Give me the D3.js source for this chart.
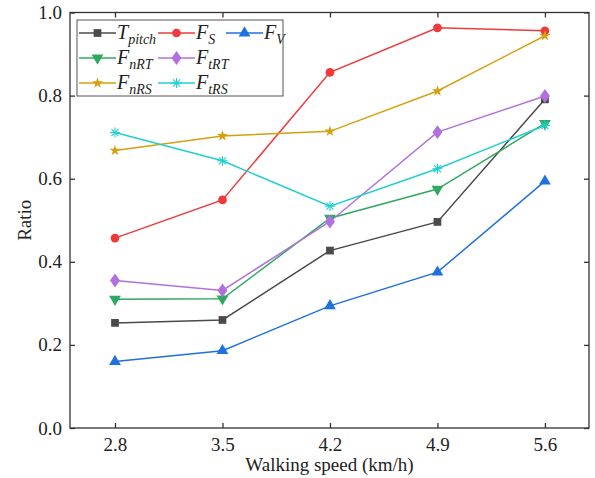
<!DOCTYPE html>
<html><head><meta charset="utf-8">
<script src="https://cdn.jsdelivr.net/npm/d3@7"></script>
<style>body{margin:0;background:#fff}svg{display:block}text{font-family:"Liberation Serif","Times New Roman",Times,serif}</style>
</head><body>
<script>
const speeds = [2.8, 3.5, 4.2, 4.9, 5.6];
const xTicks = ["2.8", "3.5", "4.2", "4.9", "5.6"];
const yTicks = [0.0, 0.2, 0.4, 0.6, 0.8, 1.0];
const Tpitch = [0.253, 0.260, 0.427, 0.496, 0.791];
const FS     = [0.457, 0.549, 0.856, 0.963, 0.956];
const FV     = [0.160, 0.186, 0.294, 0.375, 0.594];
const FnRT   = [0.310, 0.311, 0.505, 0.575, 0.733];
const FtRT   = [0.355, 0.331, 0.497, 0.712, 0.799];
const FnRS   = [0.668, 0.703, 0.714, 0.811, 0.944];
const FtRS   = [0.711, 0.643, 0.534, 0.624, 0.728];

const series = [
  {base:"T", sub:"pitch", vals:Tpitch, color:"#4a4a4a", sym:"square"},
  {base:"F", sub:"S", vals:FS, color:"#f03a3a", sym:"circle"},
  {base:"F", sub:"V", vals:FV, color:"#1f70e0", sym:"triangle"},
  {base:"F", sub:"nRT", vals:FnRT, color:"#30a860", sym:"triangleDown"},
  {base:"F", sub:"tRT", vals:FtRT, color:"#b070e0", sym:"diamond"},
  {base:"F", sub:"nRS", vals:FnRS, color:"#d4a010", sym:"star"},
  {base:"F", sub:"tRS", vals:FtRS, color:"#20d0d0", sym:"asterisk"}
];

const W = 595, H = 478;
const L = 70, R = 589, T = 12.5, B = 428;
const svg = d3.select("body").append("svg").attr("width", W).attr("height", H);
const x = d3.scaleLinear().domain([2.507, 5.887]).range([L, R]);
const y = d3.scaleLinear().domain([0, 1]).range([B, T]);

function drawSym(g, sym, color, cx, cy) {
  if (sym === "asterisk") {
    const s = 5;
    const p = g.append("g").attr("stroke", color).attr("stroke-width", 1.1);
    [0, 45, 90, 135].forEach(a => {
      const r = a * Math.PI / 180;
      p.append("line").attr("x1", cx - s*Math.cos(r)).attr("y1", cy - s*Math.sin(r))
        .attr("x2", cx + s*Math.cos(r)).attr("y2", cy + s*Math.sin(r));
    });
    return;
  }
  let path;
  if (sym === "square") { path = d3.symbol(d3.symbolSquare, 60)(); }
  else if (sym === "circle") { path = d3.symbol(d3.symbolCircle, 60)(); }
  else if (sym === "triangle") { path = d3.symbol(d3.symbolTriangle, 60)(); }
  else if (sym === "triangleDown") { path = d3.symbol(d3.symbolTriangle, 60)(); }
  else if (sym === "diamond") { path = d3.symbol(d3.symbolDiamond, 55)(); }
  else if (sym === "star") { path = d3.symbol(d3.symbolStar, 38)(); }
  g.append("path").attr("d", path).attr("fill", color)
    .attr("transform", `translate(${cx},${cy})` + (sym === "triangleDown" ? " rotate(180)" : "") + (sym==="diamond" ? " scale(1.25,1)" : ""));
}

// lines and markers
const line = d3.line().x((d, i) => x(speeds[i])).y(d => y(d));
const plot = svg.append("g");
series.forEach(s => {
  plot.append("path").attr("d", line(s.vals)).attr("fill", "none")
    .attr("stroke", s.color).attr("stroke-width", 1.5);
});
series.forEach(s => {
  s.vals.forEach((v, i) => drawSym(plot, s.sym, s.color, x(speeds[i]), y(v)));
});

// frame
svg.append("rect").attr("x", L).attr("y", T).attr("width", R - L).attr("height", B - T)
  .attr("fill", "none").attr("stroke", "#333").attr("stroke-width", 1.3);

const tk = 5;
const axB = svg.append("g").attr("transform", `translate(0,${B})`)
  .call(d3.axisBottom(x).tickValues(speeds).tickSize(-tk).tickPadding(10).tickFormat((d, i) => xTicks[i]));
const axT = svg.append("g").attr("transform", `translate(0,${T})`)
  .call(d3.axisTop(x).tickValues(speeds).tickSize(-tk).tickFormat(""));
const axL = svg.append("g").attr("transform", `translate(${L},0)`)
  .call(d3.axisLeft(y).tickValues(yTicks).tickSize(-tk).tickPadding(8).tickFormat(d3.format(".1f")));
const axR = svg.append("g").attr("transform", `translate(${R},0)`)
  .call(d3.axisRight(y).tickValues(yTicks).tickSize(-tk).tickFormat(""));
[axB, axT, axL, axR].forEach(a => {
  a.attr("font-family", null);
  a.select(".domain").remove();
  a.selectAll("line").attr("stroke", "#333").attr("stroke-width", 1.3);
  a.selectAll("text").attr("font-size", 19).attr("fill", "#222");
});

// axis titles
svg.append("text").attr("x", (L + R) / 2).attr("y", 471).attr("text-anchor", "middle")
  .attr("font-size", 19).attr("fill", "#222").text("Walking speed (km/h)");
svg.append("text").attr("transform", `translate(31,${(T + B) / 2}) rotate(-90)`).attr("text-anchor", "middle")
  .attr("font-size", 19).attr("fill", "#222").text("Ratio");

// legend
const lg = svg.append("g");
lg.append("rect").attr("x", 77).attr("y", 20).attr("width", 206).attr("height", 76)
  .attr("fill", "#fff").attr("stroke", "#555").attr("stroke-width", 1);
const cols = [79, 158, 226];
const rows = [33, 58, 83];
const layout = [[0,0],[0,1],[0,2],[1,0],[1,1],[2,0],[2,1]];
series.forEach((s, k) => {
  const [r, c] = layout[k];
  const x0 = cols[c], yy = rows[r];
  lg.append("line").attr("x1", x0).attr("x2", x0 + 37).attr("y1", yy).attr("y2", yy)
    .attr("stroke", s.color).attr("stroke-width", 1.5);
  drawSym(lg, s.sym, s.color, x0 + 18.5, yy);
  const t = lg.append("text").attr("x", x0 + 38).attr("y", yy + 6)
    .attr("font-style", "italic").attr("font-size", 20).attr("fill", "#222");
  t.append("tspan").text(s.base);
  t.append("tspan").attr("dy", 5).attr("font-size", 14).text(s.sub);
});
</script>
</body></html>
